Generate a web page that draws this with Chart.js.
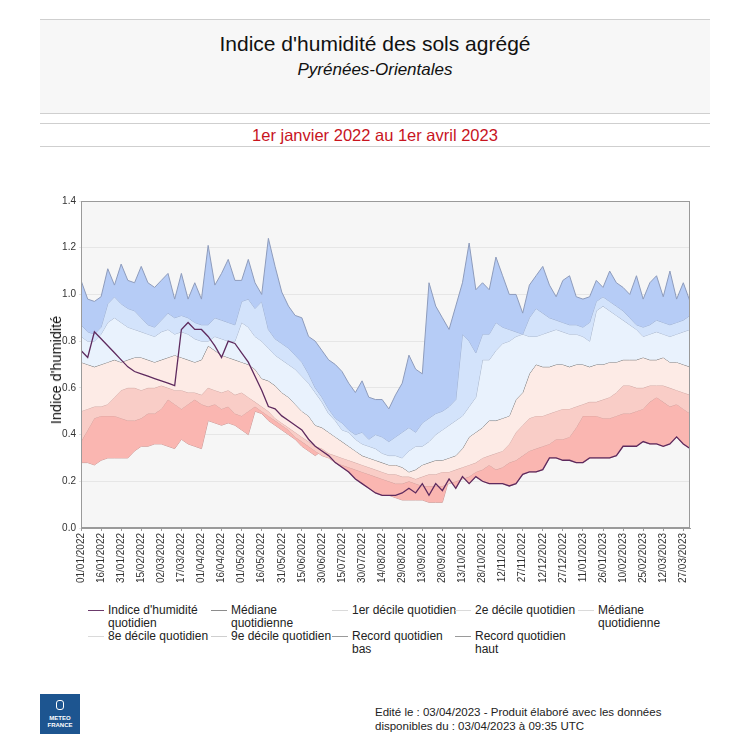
<!DOCTYPE html>
<html lang="fr">
<head>
<meta charset="UTF-8">
<title>Indice d'humidité des sols agrégé</title>
<script src="https://cdn.jsdelivr.net/npm/chart.js"></script>
<style>
  body { margin:0; width:750px; height:750px; position:relative; background:#fff; font-family:'Liberation Sans', Arial, sans-serif; overflow:hidden; color:#111; }
  .entete { position:absolute; left:40px; top:19px; width:670px; height:93px; background:#f7f7f7; border-top:1px solid #cfcfcf; border-bottom:1px solid #cfcfcf; text-align:center; }
  .entete h1 { font-weight:normal; font-size:21px; margin:12px 0 0; }
  .entete h2 { font-weight:normal; font-style:italic; font-size:17px; margin:4px 0 0; }
  .periode { position:absolute; left:40px; top:123px; width:670px; height:22px; border-top:1px solid #cfcfcf; border-bottom:1px solid #cfcfcf; text-align:center; color:#c8141e; font-size:16.5px; line-height:22px; }
  #graphique { position:absolute; left:0; top:190px; }
  .titre-y { position:absolute; left:56px; top:370px; transform:translate(-50%,-50%) rotate(-90deg); font-size:14.5px; white-space:nowrap; }
  .legende { position:absolute; font-size:12px; line-height:13px; color:#222; white-space:nowrap; }
  .legende i { position:absolute; left:-20px; top:6px; width:16px; height:0; border-top:1px solid #999; }
  .logo { position:absolute; left:40px; top:694px; width:40px; height:40px; background:#1d5590; color:#fff; font-size:6px; font-weight:bold; text-align:center; line-height:7px; }
  .logo b { display:block; width:6px; height:8px; margin:6px auto 5px; border:1.5px solid #fff; border-radius:3px; }
  .pied { position:absolute; left:375px; top:705px; font-size:11.5px; line-height:14px; color:#222; }
</style>
</head>
<body>
  <div class="entete">
    <h1>Indice d'humidité des sols agrégé</h1>
    <h2>Pyrénées-Orientales</h2>
  </div>
  <div class="periode">1er janvier 2022 au 1er avril 2023</div>

  <canvas id="graphique" width="700" height="405"></canvas>
  <div class="titre-y">Indice d'humidité</div>

  <div class="legende" style="left:108px;top:604px"><i style="border-color:#6b3a6b"></i>Indice d'humidité<br>quotidien</div>
  <div class="legende" style="left:231px;top:604px"><i style="border-color:#8c8c8c"></i>Médiane<br>quotidienne</div>
  <div class="legende" style="left:352px;top:604px"><i style="border-color:#dadada"></i>1er décile quotidien</div>
  <div class="legende" style="left:475px;top:604px"><i style="border-color:#dadada"></i>2e décile quotidien</div>
  <div class="legende" style="left:598px;top:604px"><i style="border-color:#dadada"></i>Médiane<br>quotidienne</div>
  <div class="legende" style="left:108px;top:630px"><i style="border-color:#dadada"></i>8e décile quotidien</div>
  <div class="legende" style="left:231px;top:630px"><i style="border-color:#cfcfcf"></i>9e décile quotidien</div>
  <div class="legende" style="left:352px;top:630px"><i style="border-color:#9a9a9a"></i>Record quotidien<br>bas</div>
  <div class="legende" style="left:475px;top:630px"><i style="border-color:#9a9a9a"></i>Record quotidien<br>haut</div>

  <div class="logo"><b></b>METEO<br>FRANCE</div>
  <div class="pied">Edité le : 03/04/2023 - Produit élaboré avec les données<br>disponibles du : 03/04/2023 à 09:35 UTC</div>

  <script>
    // un point tous les 5 jours depuis le 01/01/2022
    const pasJours = 5;

    const etiquettesX = ['01/01/2022','16/01/2022','31/01/2022','15/02/2022','02/03/2022','17/03/2022',
      '01/04/2022','16/04/2022','01/05/2022','16/05/2022','31/05/2022','15/06/2022','30/06/2022',
      '15/07/2022','30/07/2022','14/08/2022','29/08/2022','13/09/2022','28/09/2022','13/10/2022',
      '28/10/2022','12/11/2022','27/11/2022','12/12/2022','27/12/2022','11/01/2023','26/01/2023',
      '10/02/2023','25/02/2023','12/03/2023','27/03/2023'];

    const recordHaut = [1.06,0.98,0.97,0.99,1.11,1.04,1.13,1.06,1.05,1.12,1.05,1.03,1.06,1.09,0.98,1.09,
      0.98,1.05,0.98,1.21,1.04,1.09,1.15,1.06,1.06,1.15,1.05,1.00,1.24,1.12,1.01,0.95,
      0.91,0.90,0.82,0.80,0.76,0.72,0.70,0.67,0.62,0.58,0.63,0.56,0.55,0.55,0.51,0.57,
      0.62,0.74,0.68,0.66,1.05,0.95,0.90,0.85,0.95,1.05,1.22,1.02,1.05,1.02,
      1.16,1.08,1.00,1.00,0.92,1.04,1.08,1.12,1.04,0.99,1.06,1.08,0.99,0.98,0.99,1.06,
      1.03,1.10,1.05,1.03,1.00,1.08,0.98,1.05,1.08,0.99,1.10,0.98,1.05,0.97];

    const decile9 = [0.87,0.84,0.83,0.86,0.96,0.99,0.96,0.94,0.93,0.90,0.87,0.86,0.89,0.92,0.90,0.91,
      0.90,0.88,0.87,0.87,0.90,0.89,0.88,0.87,0.97,0.98,0.94,0.97,0.85,0.81,0.79,0.77,
      0.74,0.71,0.66,0.60,0.56,0.51,0.47,0.45,0.42,0.40,0.41,0.38,0.40,0.39,0.37,0.39,
      0.41,0.43,0.41,0.45,0.47,0.49,0.50,0.52,0.55,0.83,0.80,0.75,0.83,0.83,
      0.88,0.86,0.85,0.84,0.83,0.90,0.94,0.92,0.90,0.89,0.88,0.87,0.87,0.86,0.88,0.97,
      0.99,0.97,0.95,0.93,0.90,0.87,0.86,0.87,0.89,0.88,0.87,0.88,0.89,0.91];

    const decile8 = [0.82,0.80,0.80,0.83,0.88,0.90,0.88,0.86,0.85,0.84,0.83,0.82,0.84,0.85,0.83,0.84,
      0.83,0.81,0.80,0.80,0.82,0.81,0.80,0.80,0.88,0.86,0.82,0.80,0.77,0.74,0.72,0.70,
      0.68,0.65,0.62,0.58,0.54,0.49,0.46,0.42,0.41,0.38,0.36,0.35,0.34,0.32,0.31,0.31,
      0.30,0.33,0.35,0.35,0.37,0.40,0.42,0.44,0.46,0.48,0.52,0.56,0.72,0.72,
      0.76,0.79,0.80,0.82,0.83,0.82,0.82,0.83,0.84,0.85,0.84,0.83,0.83,0.82,0.80,0.93,
      0.95,0.93,0.91,0.89,0.87,0.85,0.82,0.83,0.84,0.83,0.82,0.83,0.84,0.85];

    const mediane = [0.71,0.70,0.69,0.70,0.71,0.72,0.71,0.72,0.73,0.73,0.72,0.71,0.72,0.73,0.74,0.73,
      0.72,0.71,0.72,0.78,0.76,0.74,0.73,0.72,0.71,0.70,0.68,0.64,0.63,0.61,0.58,0.56,
      0.53,0.50,0.48,0.44,0.43,0.41,0.39,0.37,0.35,0.33,0.31,0.30,0.29,0.28,0.27,0.27,
      0.26,0.24,0.25,0.27,0.28,0.29,0.29,0.30,0.31,0.34,0.39,0.41,0.43,0.46,
      0.46,0.47,0.48,0.55,0.58,0.66,0.70,0.69,0.69,0.70,0.70,0.69,0.70,0.70,0.69,0.70,
      0.70,0.71,0.71,0.72,0.72,0.72,0.73,0.72,0.72,0.73,0.71,0.71,0.70,0.69];

    const decile2 = [0.50,0.51,0.52,0.52,0.53,0.56,0.59,0.60,0.60,0.59,0.60,0.60,0.61,0.60,0.59,0.59,
      0.58,0.58,0.57,0.60,0.59,0.58,0.59,0.57,0.58,0.56,0.54,0.52,0.50,0.47,0.45,0.43,
      0.41,0.39,0.37,0.35,0.34,0.32,0.31,0.30,0.29,0.28,0.27,0.26,0.25,0.24,0.23,0.23,
      0.22,0.22,0.21,0.22,0.23,0.23,0.24,0.24,0.25,0.26,0.27,0.28,0.30,0.31,
      0.32,0.33,0.36,0.41,0.44,0.47,0.48,0.48,0.49,0.50,0.51,0.51,0.52,0.53,0.54,0.54,
      0.55,0.56,0.58,0.61,0.61,0.60,0.60,0.61,0.61,0.61,0.60,0.59,0.58,0.57];

    const decile1 = [0.37,0.42,0.47,0.48,0.48,0.48,0.47,0.46,0.46,0.47,0.49,0.49,0.51,0.55,0.53,0.51,
      0.53,0.55,0.53,0.52,0.53,0.51,0.52,0.49,0.48,0.50,0.52,0.50,0.48,0.46,0.44,0.42,
      0.39,0.37,0.35,0.33,0.31,0.30,0.28,0.27,0.26,0.25,0.24,0.23,0.22,0.21,0.20,0.19,
      0.19,0.20,0.19,0.18,0.18,0.18,0.18,0.19,0.20,0.21,0.22,0.24,0.25,0.27,
      0.25,0.26,0.28,0.29,0.31,0.33,0.34,0.35,0.36,0.38,0.38,0.39,0.43,0.48,0.48,0.48,
      0.47,0.47,0.48,0.49,0.49,0.50,0.51,0.54,0.56,0.54,0.52,0.53,0.51,0.49];

    const recordBas = [0.28,0.28,0.27,0.29,0.30,0.30,0.30,0.30,0.33,0.35,0.35,0.36,0.36,0.35,0.34,0.38,
      0.36,0.35,0.34,0.46,0.45,0.44,0.45,0.44,0.42,0.40,0.50,0.49,0.46,0.44,0.42,0.40,
      0.38,0.35,0.33,0.31,0.33,0.31,0.28,0.26,0.24,0.21,0.19,0.17,0.15,0.14,0.14,0.13,
      0.12,0.12,0.12,0.12,0.11,0.11,0.11,0.21,0.17,0.22,0.19,0.22,0.20,0.19,
      0.19,0.19,0.18,0.19,0.23,0.24,0.24,0.25,0.30,0.30,0.29,0.29,0.28,0.28,0.30,0.30,
      0.30,0.30,0.31,0.35,0.35,0.35,0.37,0.36,0.36,0.35,0.36,0.39,0.36,0.34];

    const indice = [0.76,0.73,0.84,0.81,0.78,0.75,0.72,0.69,0.67,0.66,0.65,0.64,0.63,0.62,0.61,0.85,
      0.88,0.85,0.85,0.82,0.78,0.73,0.80,0.79,0.75,0.71,0.65,0.59,0.52,0.51,0.48,0.46,
      0.44,0.42,0.38,0.35,0.33,0.31,0.28,0.26,0.24,0.21,0.19,0.17,0.15,0.14,0.14,0.14,
      0.15,0.17,0.15,0.19,0.14,0.19,0.16,0.21,0.17,0.22,0.19,0.22,0.20,0.19,
      0.19,0.19,0.18,0.19,0.23,0.24,0.24,0.25,0.30,0.30,0.29,0.29,0.28,0.28,0.30,0.30,
      0.30,0.30,0.31,0.35,0.35,0.35,0.37,0.36,0.36,0.35,0.36,0.39,0.36,0.34];

    const enPoints = serie => serie.map((v, i) => ({ x: i * pasJours, y: v }));

    function courbe(label, serie, bordure, fond) {
      return {
        label, data: enPoints(serie), borderColor: bordure, borderWidth: 1,
        backgroundColor: fond || 'transparent', fill: fond ? '+1' : false,
        pointRadius: 0, tension: 0
      };
    }

    const fondZone = {
      id: 'fondZone',
      beforeDraw(chart) {
        const { ctx, chartArea: a } = chart;
        ctx.save();
        ctx.fillStyle = '#f6f6f6';
        ctx.fillRect(a.left, a.top, a.right - a.left, a.bottom - a.top);
        ctx.restore();
      },
      afterDraw(chart) {
        const { ctx, chartArea: a } = chart;
        ctx.save();
        ctx.strokeStyle = '#9a9a9a';
        ctx.lineWidth = 1;
        ctx.strokeRect(a.left + 0.5, a.top + 0.5, a.right - a.left - 1, a.bottom - a.top - 1);
        ctx.restore();
      }
    };

    const ind = courbe("Indice d'humidité quotidien", indice, '#5e2a5e');
    ind.borderWidth = 1.3;
    ind.order = -1;

    new Chart(document.getElementById('graphique'), {
      type: 'line',
      data: {
        datasets: [
          courbe('Record quotidien haut', recordHaut, '#8e9cbc', '#b6ccf6'),
          courbe('9e décile quotidien', decile9, '#9fb1d2', '#d3e3fb'),
          courbe('8e décile quotidien', decile8, '#a9b6cc', '#e9f2fd'),
          courbe('Médiane quotidienne', mediane, '#777777', '#fdebe6'),
          courbe('2e décile quotidien', decile2, '#d2aaa6', '#f9cdc7'),
          courbe('1er décile quotidien', decile1, '#d6a29e', '#fab6b1'),
          courbe('Record quotidien bas', recordBas, '#c99a98'),
          ind
        ]
      },
      options: {
        responsive: false,
        animation: false,
        layout: { padding: { top: 11, right: 10, left: 0, bottom: 0 } },
        plugins: { legend: { display: false }, tooltip: { enabled: false } },
        scales: {
          x: {
            type: 'linear', min: 0, max: 455,
            afterBuildTicks: s => { s.ticks = etiquettesX.map((t, i) => ({ value: i * 15 })); },
            afterFit: s => { s.height = 67; },
            ticks: {
              autoSkip: false, maxRotation: 90, minRotation: 90, padding: 2,
              color: '#333', font: { family: 'Liberation Sans', size: 10 },
              callback: (v, i) => etiquettesX[i]
            },
            grid: { drawOnChartArea: false, tickLength: 3, color: '#9a9a9a' },
            border: { color: '#9a9a9a' }
          },
          y: {
            min: 0, max: 1.4,
            afterFit: s => { s.width = 81; },
            ticks: {
              stepSize: 0.2, padding: 3, color: '#333',
              font: { family: 'Liberation Sans', size: 10 },
              callback: v => v.toFixed(1)
            },
            grid: { color: '#e6e6e6', tickLength: 2 },
            border: { color: '#9a9a9a' }
          }
        }
      },
      plugins: [fondZone]
    });
  </script>
</body>
</html>
